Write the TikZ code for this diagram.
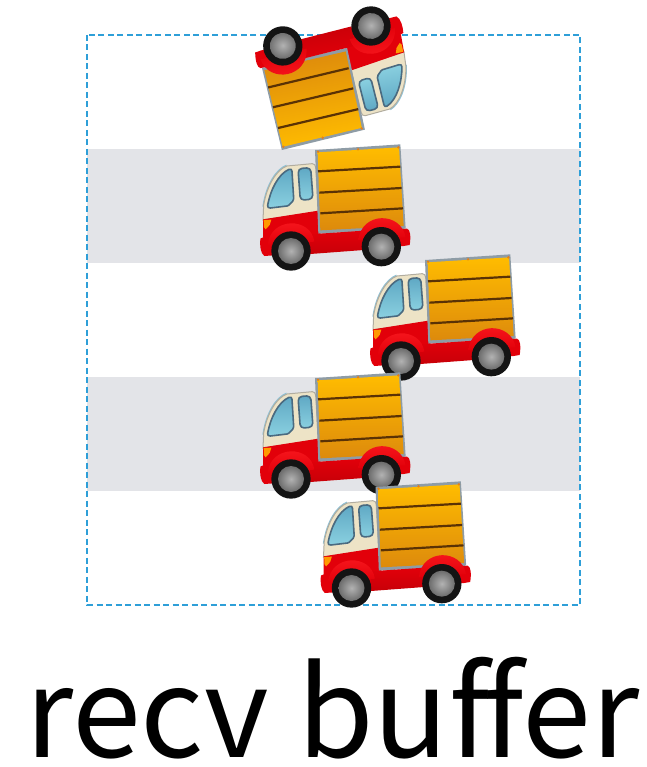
\documentclass[tikz,border=0pt]{standalone}
\usepackage{fontspec}
\newfontfamily\labelfont{Noto Sans CJK SC}
\definecolor{band}{HTML}{E3E4E8}
\definecolor{dashblue}{HTML}{2E9FD8}
\definecolor{blob}{HTML}{F58220}
\definecolor{cream}{HTML}{EDE3C6}
\definecolor{truckred}{HTML}{E2000A}
\definecolor{darkred}{HTML}{C80008}
\definecolor{brightred}{HTML}{FA1A20}
\definecolor{frame}{HTML}{8E9CA6}
\definecolor{slat}{HTML}{5A3205}
\definecolor{glassdark}{HTML}{4A6A80}
\definecolor{boxtop}{HTML}{FFBC00}
\definecolor{boxmid}{HTML}{FFAA00}
\definecolor{boxbot}{HTML}{DD8A0C}
\definecolor{glasstop}{HTML}{5FA8C4}
\definecolor{glassbot}{HTML}{8AD0E0}
\tikzset{
  boxfill/.style={top color=boxtop,middle color=boxmid,bottom color=boxbot,shading angle=\truckrot},
  glass/.style={draw=glassdark,line width=1.6pt,line join=round,top color=glasstop,bottom color=glassbot,shading angle=\truckrot},
  hub/.style={inner color=gray!60,outer color=gray!85!black},
  tire/.style={fill=black!92},
  slatline/.style={draw=slat,line width=2.2pt},
  fender/.style={top color=brightred,bottom color=truckred,shading angle=\truckrot},
}
\newcommand{\truck}[3]{%
  \def\truckrot{#3}%
  \begin{scope}[shift={(#1,-#2)},rotate=#3,scale=1/3,yscale=-1,shift={(-122,-333)}]
    % cab
    \fill[glasstop!70!white] (36,200) .. controls (46,130) and (78,85) .. (108,74) -- (112,90) -- (60,200) -- cycle;
    \fill[cream,draw=gray!55!cream,line width=1pt] (38,240) -- (40,195) .. controls (50,135) and (80,88) .. (110,78) -- (186,71) .. controls (192,71) and (196,76) .. (196,82) -- (204,215) -- cycle;
    \draw[glass] (52,196) .. controls (60,150) and (84,102) .. (116,88) .. controls (122,86) and (124,88) .. (125,94) -- (130,176) .. controls (130,180) and (129,182) .. (127,184) -- (115,196) .. controls (113,198) and (112,198) .. (110,198) -- (60,204) .. controls (54,204) and (51,202) .. (52,196) -- cycle;
    \draw[glass,rounded corners=4pt] (143,86) -- (181,83) -- (188,177) -- (150,181) -- cycle;
    % red lower body
    \fill[truckred] (38,238) -- (204,212) -- (212,300) -- (48,330) -- (38,290) -- cycle;
    \fill[orange!80!yellow] (40,240) -- (63,239) -- (58,255) -- (46,268) -- (41,262) -- cycle;
    % load box
    \fill[frame] (194,30) -- (450,13) -- (466,266) -- (204,281) -- cycle;
    \shade[boxfill] (202,37) -- (446,22) -- (460,258) -- (210,271) -- cycle;
    \draw[slatline] (203,94) -- (450,80);
    \draw[slatline] (207,158) -- (454,144);
    \draw[slatline] (210,220) -- (458,205);
    \fill[orange!60!brown] (203,35) circle (4) (323,28) circle (4) (444,22) circle (4);
    % chassis
    \fill[truckred] (30,296) .. controls (34,292) and (40,292) .. (48,292) -- (470,266) .. controls (480,268) and (482,290) .. (478,315) -- (460,318) -- (42,348) .. controls (30,340) and (28,315) .. (30,296) -- cycle;
    \shade[top color=truckred,bottom color=darkred,shading angle=\truckrot] (180,283) -- (340,272) -- (340,330) -- (180,342) -- cycle;
    % fenders
    \shade[fender] (52,315) .. controls (60,230) and (182,230) .. (192,305) -- cycle;
    \shade[fender] (324,300) .. controls (334,214) and (452,214) .. (466,292) -- cycle;
    % wheels
    \fill[tire] (122,333) circle (59);
    \shade[hub] (122,333) circle (39);
    \fill[tire] (393,320) circle (59);
    \shade[hub] (393,320) circle (39);
  \end{scope}}
\begin{document}
\begin{tikzpicture}[x=1pt,y=1pt]
\useasboundingbox (0,0) rectangle (646,-767);
\fill[band] (87,-149) rectangle (580,-263);
\fill[band] (87,-377) rectangle (580,-491);
\draw[dashblue,line width=2.3pt,dash pattern=on 6pt off 3.5pt] (87,-35) rectangle (580,-605);
\truck{291}{251}{0}
\truck{401}{361}{0}
\truck{291}{479}{0}
\truck{351.5}{588}{0}
\truck{371}{26}{-170}
\fill[blob] (646,308) .. controls (638,311) and (631,316) .. (630,320) .. controls (629,324) and (636,324) .. (646,322) -- cycle;
\node[anchor=base west,inner sep=0pt] (caption) at (25,-757) {\labelfont\fontsize{124}{124}\selectfont recv buf\kern-5.5pt fer};
\end{tikzpicture}
\end{document}
